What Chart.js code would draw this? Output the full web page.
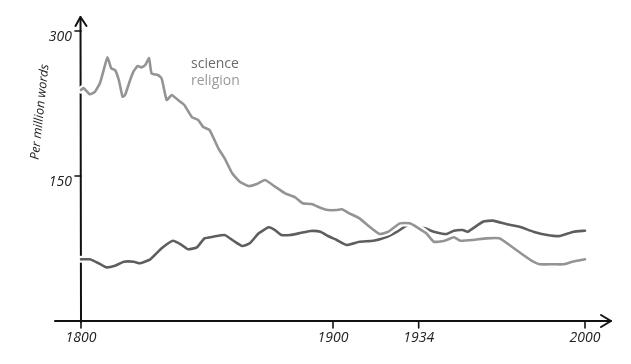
<!DOCTYPE html>
<html>
<head>
<meta charset="utf-8">
<script src="https://cdn.jsdelivr.net/npm/chart.js@4.4.1/dist/chart.umd.min.js"></script>
<style>
  html, body { margin: 0; padding: 0; background: #fff; }
  canvas { display: block; }
</style>
</head>
<body>
<canvas id="c" width="631" height="364"></canvas>
<script>
// ---- data ----
const religionYears = [1800,1801,1803.5,1805.5,1807.5,1809,1810.5,1812,1813.5,1815,1816.5,1817.5,1819.5,1821,1822.5,1824,1825.5,1827,1828,1830.5,1832,1834,1836,1838.5,1841,1844,1846.5,1848.5,1851,1854.5,1857,1860,1863,1866.5,1869.5,1873,1877,1881,1885,1888,1891.5,1895.5,1898,1901.5,1903.5,1906.5,1910.5,1914.5,1918.5,1922,1926.5,1930.5,1934,1937,1940,1944,1948,1950.5,1955.5,1961,1966,1970,1975.5,1979.5,1982,1987.5,1991.5,1995,2000];
const religionValues = [239,241,234.5,237,246,259.6,272.8,261.4,259.6,249.3,232,233.8,249.3,258.9,263.8,262.4,264.8,271.8,256.2,254.5,251,228.6,233.8,228.6,223.4,211,208,200.7,197.6,178.6,168.3,152.8,144,139.6,141.4,145.9,139,132,128,121.8,121,116.6,114.8,114.8,115.5,111.4,106.2,97.5,90,92.4,101,101,95.9,90.7,82,82.8,86.6,83,83.8,85.5,85.5,78.6,68.3,61.3,58.7,58.7,58.7,61.3,63.8];

const scienceYears = [1800,1803.5,1807,1810,1813.5,1817,1821,1823.5,1827.5,1832,1836.5,1840,1842.5,1846,1849,1852.5,1857,1860.5,1864,1867,1870.5,1874.5,1877,1879.5,1883,1887,1891,1895,1898,1901.5,1905.5,1910.5,1916,1921.5,1925.5,1928,1930.5,1933.5,1936.5,1940,1945,1948,1951.5,1953.5,1959.5,1963.5,1969,1974,1979.5,1985,1990,1995.5,2000];
const scienceValues = [63.8,63.8,59.7,55.5,57.2,61.3,61.3,59.7,63.8,75.2,83,78.6,74.2,76.2,85.5,87.2,89,83,77.6,80.4,90.7,96.9,94.1,89,89,91,93.1,92.4,87.9,83.8,78.6,82,83,87.2,92.4,96.9,100,97,95.9,92.4,90,93.4,94.1,92.4,102.7,103.8,100,97.5,92.4,89,87.9,92.4,93.4];

const seriesNames = ['science', 'religion'];
const xTicks = [1800, 1900, 1934, 2000];
const yTicks = [150, 300];
const yTitle = 'Per million words';

// ---- styles ----
const scienceColor = '#5e5e5e';
const religionColor = '#949494';
const scienceText = '#6a6a6a';
const religionText = '#9a9a9a';

const pts = (xs, ys) => xs.map((x, i) => ({ x: x, y: ys[i] }));

const lineBase = {
  pointRadius: 0,
  tension: 0.15,
  borderJoinStyle: 'round',
  borderCapStyle: 'round',
  clip: false,
  fill: false
};

const xkcdPlugin = {
  id: 'xkcd',
  beforeDatasetsDraw(chart) {
    const ctx = chart.ctx;
    const xs = chart.scales.x, ys = chart.scales.y;
    const x0 = xs.getPixelForValue(1800);
    const y0 = ys.getPixelForValue(0);
    ctx.save();
    ctx.strokeStyle = '#111';
    ctx.lineWidth = 2;
    ctx.lineCap = 'round';
    ctx.lineJoin = 'round';
    // y axis
    ctx.beginPath();
    ctx.moveTo(x0, y0 + 1);
    ctx.lineTo(x0 - 0.5, 17);
    ctx.stroke();
    ctx.beginPath();
    ctx.moveTo(x0 - 5.5, 26);
    ctx.lineTo(x0 - 0.5, 17);
    ctx.lineTo(x0 + 5.5, 26);
    ctx.stroke();
    // x axis
    ctx.beginPath();
    ctx.moveTo(55, y0);
    ctx.lineTo(611, y0);
    ctx.stroke();
    ctx.beginPath();
    ctx.moveTo(601, y0 - 6);
    ctx.lineTo(611, y0);
    ctx.lineTo(601, y0 + 6);
    ctx.stroke();
    // x ticks
    ctx.lineWidth = 1.6;
    xTicks.forEach(v => {
      const px = xs.getPixelForValue(v);
      ctx.beginPath();
      ctx.moveTo(px, y0);
      ctx.lineTo(px, y0 + 7);
      ctx.stroke();
    });
    // y ticks
    yTicks.forEach(v => {
      const py = ys.getPixelForValue(v);
      ctx.beginPath();
      ctx.moveTo(x0 - 6, py);
      ctx.lineTo(x0, py);
      ctx.stroke();
    });
    // tick labels
    ctx.fillStyle = '#222';
    ctx.font = 'italic 14px "Open Sans", "DejaVu Sans", sans-serif';
    ctx.textAlign = 'center';
    ctx.textBaseline = 'middle';
    xTicks.forEach(v => {
      ctx.fillText(String(v), xs.getPixelForValue(v), y0 + 17);
    });
    ctx.textAlign = 'right';
    yTicks.forEach(v => {
      ctx.fillText(String(v), x0 - 9, ys.getPixelForValue(v) + 6);
    });
    // y title
    ctx.save();
    ctx.translate(40, 112);
    ctx.rotate(-84 * Math.PI / 180);
    ctx.font = 'italic 12.5px "Open Sans", "DejaVu Sans", sans-serif';
    ctx.textAlign = 'center';
    ctx.textBaseline = 'middle';
    ctx.fillText(yTitle, 0, 0);
    ctx.restore();
    ctx.restore();
  },
  afterDraw(chart) {
    const ctx = chart.ctx;
    ctx.save();
    ctx.font = '14px "Open Sans", "DejaVu Sans", sans-serif';
    ctx.textAlign = 'left';
    ctx.textBaseline = 'alphabetic';
    ctx.fillStyle = scienceText;
    ctx.fillText(seriesNames[0], 191, 68);
    ctx.fillStyle = religionText;
    ctx.fillText(seriesNames[1], 191, 85);
    ctx.restore();
  }
};

new Chart(document.getElementById('c'), {
  type: 'line',
  data: {
    datasets: [
      Object.assign({}, lineBase, { label: seriesNames[1], data: pts(religionYears, religionValues), borderColor: religionColor, borderWidth: 2.6, order: 0 }),
      Object.assign({}, lineBase, { label: seriesNames[1] + ' halo', data: pts(religionYears, religionValues), borderColor: '#ffffff', borderWidth: 7, order: 1 }),
      Object.assign({}, lineBase, { label: seriesNames[0], data: pts(scienceYears, scienceValues), borderColor: scienceColor, borderWidth: 2.6, order: 2 }),
      Object.assign({}, lineBase, { label: seriesNames[0] + ' halo', data: pts(scienceYears, scienceValues), borderColor: '#ffffff', borderWidth: 7, order: 3 })
    ]
  },
  options: {
    responsive: false,
    animation: false,
    events: [],
    layout: { padding: { left: 81, right: 46, top: 31, bottom: 43 } },
    scales: {
      x: { type: 'linear', min: 1800, max: 2000, display: false },
      y: { type: 'linear', min: 0, max: 300, display: false }
    },
    plugins: {
      legend: { display: false },
      tooltip: { enabled: false }
    }
  },
  plugins: [xkcdPlugin]
});
</script>
</body>
</html>
